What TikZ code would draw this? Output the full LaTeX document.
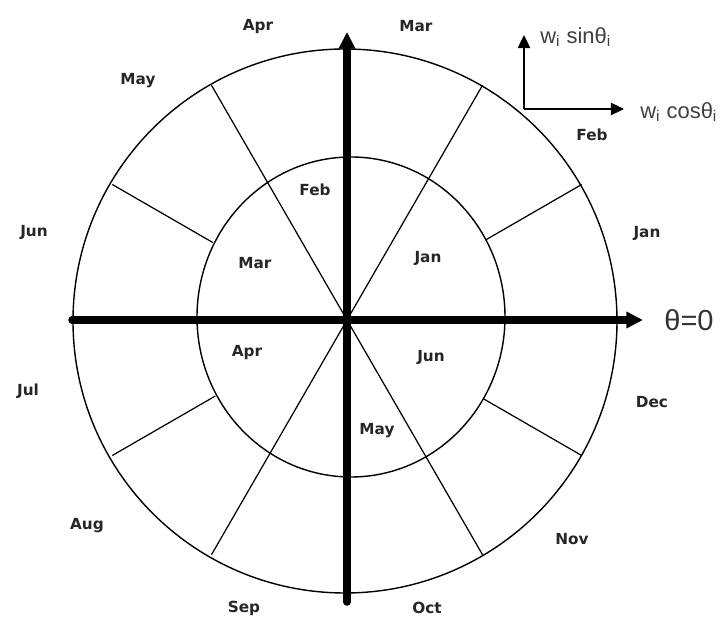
\documentclass[tikz,border=0pt]{standalone}
\usepackage{fontspec}
\newfontfamily\monthfont{DejaVu Sans}
\newfontfamily\axisfont{Liberation Sans}
\usetikzlibrary{arrows.meta}
\tikzset{
  month/.style = {font=\monthfont\bfseries\fontsize{8.7}{10}\selectfont, text=black!85, inner sep=1pt},
  ring/.style  = {line width=0.8pt},
  spoke/.style = {line width=0.7pt},
  axis/.style  = {line width=4.3pt, line cap=round, -{Triangle[length=9.5pt,width=9pt]}},
  comp/.style  = {line width=1.1pt, -{Triangle[length=7.5pt,width=7pt]}},
  clabel/.style = {font=\axisfont\fontsize{12.5}{14}\selectfont, text=black!75, inner sep=0pt},
}

\begin{document}
\begin{tikzpicture}[x=0.02cm,y=0.02cm]
  \useasboundingbox (-345,-297) rectangle (376,321);
  % rings
  \draw[ring] (0,0) circle (272);
  \draw[ring] (6,4) ellipse (154 and 160);
  % spokes
  \begin{scope}[shift={(2,1)}]
    \foreach \a in {60,120,240,300}{
      \draw[spoke] (0,0) -- (\a:271);}
    \foreach \a/\r in {30/160,150/155,210/152,330/157}{
      \draw[spoke] (\a:\r) -- (\a:271);}
  \end{scope}
  % axes
  \coordinate (west) at (-273,1);
  \coordinate (east) at (298,1);
  \coordinate (south) at (2,-281);
  \coordinate (north) at (2,289);
  \draw[axis] (west) -- (east);
  \draw[axis] (south) -- (north);
  \node[font=\axisfont\fontsize{16.5}{18}\selectfont, text=black!80] (theta) at (344,1) {θ=0};
  % outer months
  \foreach \m/\x/\y in {Mar/71/295, Apr/-87/294, May/-207/240, Jun/-311/89,
      Jul/-317/-70, Aug/-258/-205, Sep/-101/-287, Oct/82/-287,
      Nov/227/-218, Dec/307/-81, Jan/302/88, Feb/247/186}{
    \node[month] (out-\m) at (\x,\y) {\m};}
  % inner months
  \foreach \m/\x/\y in {Feb/-30/131, Mar/-90/58, Jan/83/63,
      Apr/-98/-32, Jun/86/-36, May/32/-110}{
    \node[month] (in-\m) at (\x,\y) {\m};}
  % components
  \coordinate (comp) at (179,212);
  \coordinate (comp-up) at (179,286);
  \coordinate (comp-right) at (279,212);
  \draw[comp] (comp) -- (comp-up);
  \draw[comp] (comp) -- (comp-right);
  \node[clabel, anchor=west] (sinlbl) at (195,284) {w\textsubscript{i} sinθ\textsubscript{i}};
  \node[clabel, anchor=west] (coslbl) at (295,209) {w\textsubscript{i} cosθ\textsubscript{i}};
\end{tikzpicture}
\end{document}
